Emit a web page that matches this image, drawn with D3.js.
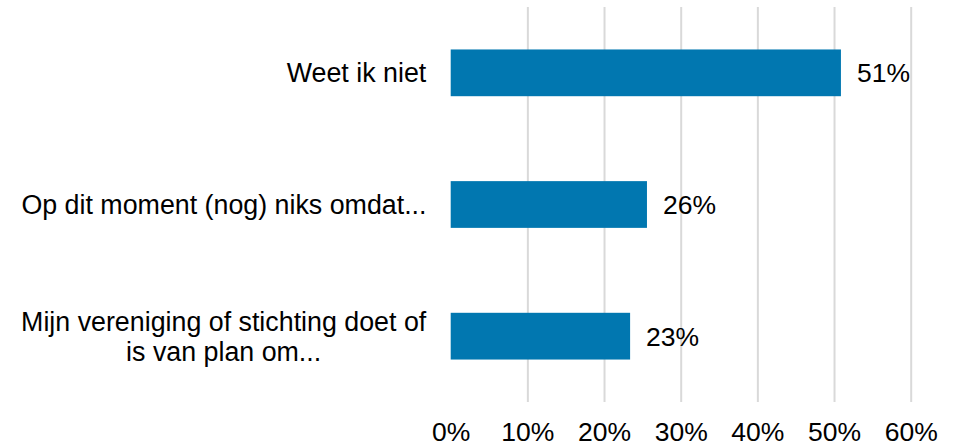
<!DOCTYPE html>
<html>
<head>
<meta charset="utf-8">
<script src="https://cdn.jsdelivr.net/npm/d3@7"></script>
<style>
    body { margin: 0; background: #fff; }
    svg text { font-family: "Liberation Sans", Arial, sans-serif; fill: #000; }
</style>
</head>
<body>
<div id="ChartDiv"></div>
<script>
// chart data
var categories = [
    ['Weet ik niet'],
    ['Op dit moment (nog) niks omdat...'],
    ['Mijn vereniging of stichting doet of', 'is van plan om...']
];
var values = [0.509, 0.256, 0.234];
var value_labels = ['51%', '26%', '23%'];
var tick_values = [0, 0.1, 0.2, 0.3, 0.4, 0.5, 0.6];

var W = 962, H = 446;
var plotLeft = 450.7, plotRight = 910.7, plotTop = 7, plotBottom = 402;
var bar_color = '#0177b0';
var grid_color = '#d9d9d9';

var svg = d3.select('#ChartDiv').append('svg')
    .attr('width', W)
    .attr('height', H);

var x = d3.scaleLinear().domain([0, 0.6]).range([plotLeft, plotRight]);
var y = d3.scaleBand()
    .domain(d3.range(categories.length))
    .range([plotTop, plotBottom])
    .paddingInner(0.645)
    .paddingOuter(0.3225);

// gridlines + tick labels through the axis
var xAxis = d3.axisBottom(x)
    .tickValues(tick_values)
    .tickFormat(d3.format('.0%'))
    .tickSize(-(plotBottom - plotTop))
    .tickPadding(20.5);

var gx = svg.append('g')
    .attr('transform', 'translate(0,' + plotBottom + ')')
    .call(xAxis);
gx.select('.domain').remove();
gx.selectAll('.tick line')
    .attr('stroke', grid_color)
    .attr('stroke-width', 2)
    .attr('opacity', function (d) { return d === 0 ? 0 : 1; });
gx.selectAll('.tick text')
    .attr('font-family', '"Liberation Sans", Arial, sans-serif')
    .style('font-size', '26.5px')
    .attr('fill', '#000');

// bars
svg.append('g').selectAll('rect')
    .data(values)
    .enter().append('rect')
    .attr('x', x(0))
    .attr('y', function (d, i) { return y(i); })
    .attr('width', function (d) { return x(d) - x(0); })
    .attr('height', y.bandwidth())
    .attr('fill', bar_color);

// value labels
svg.append('g').selectAll('text')
    .data(values)
    .enter().append('text')
    .attr('x', function (d) { return x(d) + 16; })
    .attr('y', function (d, i) { return y(i) + y.bandwidth() / 2; })
    .attr('dy', '0.36em')
    .style('font-size', '26.5px')
    .text(function (d, i) { return value_labels[i]; });

// category labels (multi-line centred, block right aligned)
var lineH = 30;
var catG = svg.append('g');
categories.forEach(function (lines, i) {
    var cy = y(i) + y.bandwidth() / 2;
    var t = catG.append('text')
        .style('font-size', '26.8px')
        .attr('text-anchor', 'middle');
    lines.forEach(function (ln, k) {
        t.append('tspan')
            .attr('x', 0)
            .attr('y', cy + (k - (lines.length - 1) / 2) * lineH)
            .attr('dy', '0.36em')
            .text(ln);
    });
    var w = t.node().getBBox().width;
    t.attr('transform', 'translate(' + (426.5 - w / 2) + ',0)');
});
</script>
</body>
</html>
